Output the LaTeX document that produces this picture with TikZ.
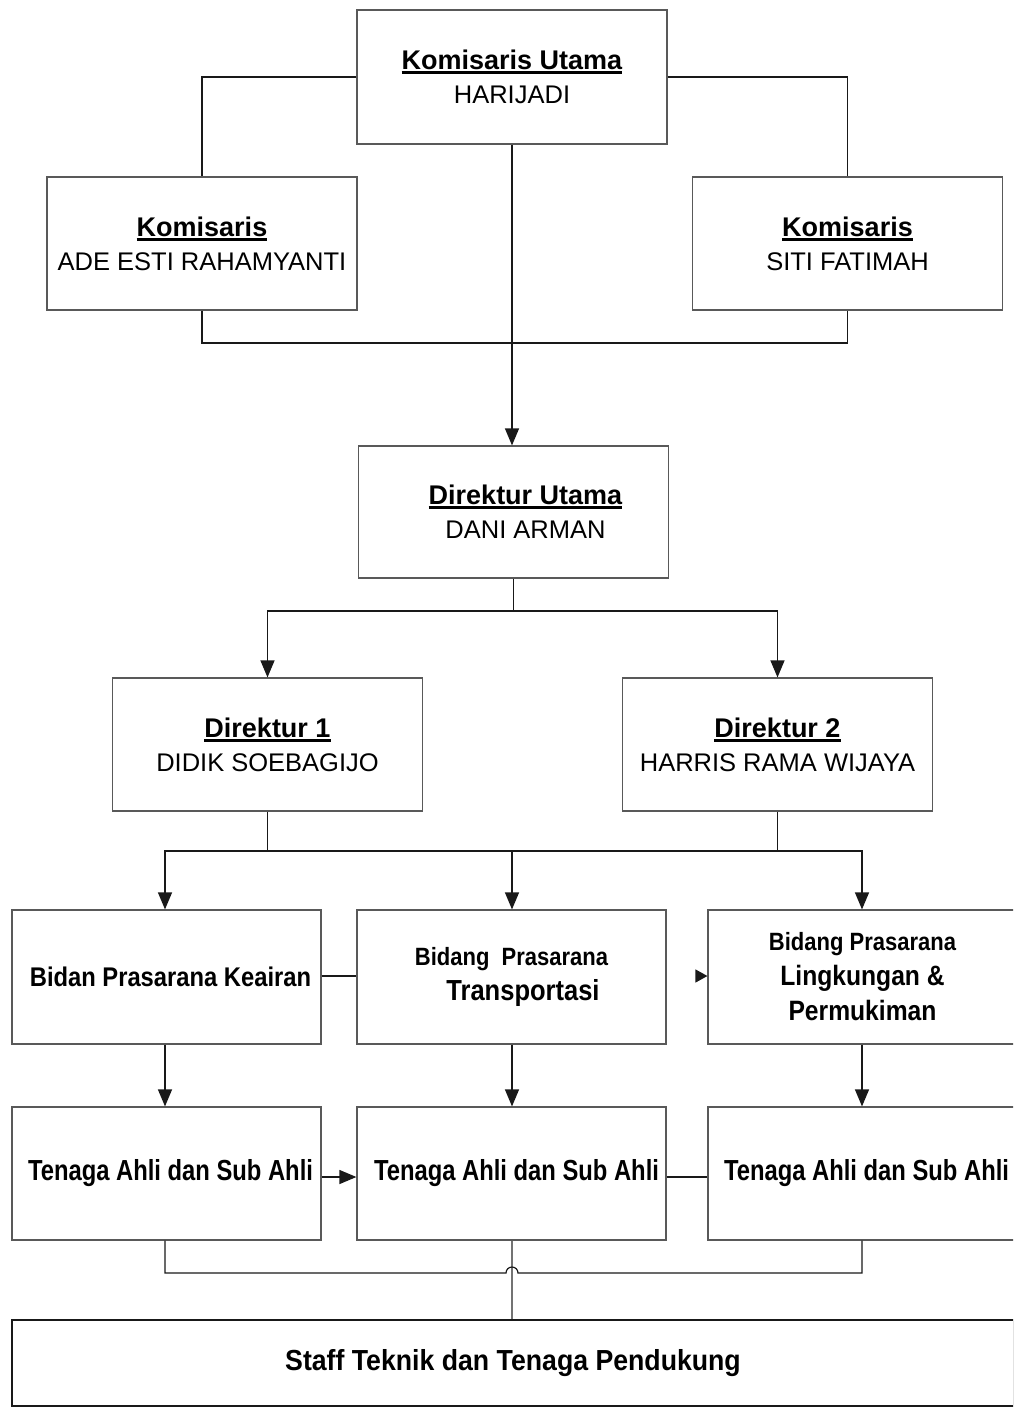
\documentclass[tikz,border=0pt]{standalone}
\usepackage{fontspec}
\setmainfont{Liberation Sans}
\newfontfamily\nb[FakeStretch=0.88]{Liberation Sans}
\newfontfamily\nbt[FakeStretch=0.82]{Liberation Sans}
\newfontfamily\nbs[FakeStretch=0.92]{Liberation Sans}
\usetikzlibrary{arrows.meta}
\newcommand\ulhd[1]{\setbox0=\hbox{\bfseries\fontsize{27}{34}\selectfont #1}\rlap{\rule[-4.5pt]{\wd0}{2.8pt}}\box0}
\tikzset{
  box/.style={draw=black!65, line width=1.2pt, minimum width=310pt, minimum height=134pt, inner sep=0pt, align=center, fill=white},
  reg/.style={font=\fontsize{25.5}{34}\selectfont},
  nbf/.style={font=\nb\bfseries\fontsize{27}{35}\selectfont},
  tnf/.style={font=\nbt\bfseries\fontsize{29}{35}\selectfont},
  conn/.style={draw=black!90, line width=1.2pt},
  arr/.style={conn, -{Triangle[length=17pt,width=14pt]}},
  grayconn/.style={draw=black!55, line width=1.2pt}
}
\begin{document}
\begin{tikzpicture}[x=1pt,y=-1pt]
\useasboundingbox (0,0) rectangle (1013,1416);
\clip (0,0) rectangle (1013,1416);
% top level
\node[box,reg] (ku) at (512,77) {\ulhd{Komisaris Utama}\\HARIJADI};
\node[box,reg,minimum height=133pt] (kl) at (202,243.5) {\ulhd{Komisaris}\\ADE ESTI RAHAMYANTI};
\node[box,reg,minimum height=133pt] (kr) at (847.5,243.5) {\ulhd{Komisaris}\\SITI FATIMAH};
\node[box,reg,minimum height=132pt] (du) at (513.5,512) {\hspace*{24pt}\ulhd{Direktur Utama}\\\hspace*{24pt}DANI ARMAN};
\node[box,reg,minimum height=133pt] (d1) at (267.5,744.5) {\ulhd{Direktur 1}\\DIDIK SOEBAGIJO};
\node[box,reg,minimum height=133pt] (d2) at (777.5,744.5) {\ulhd{Direktur 2}\\HARRIS RAMA WIJAYA};
% bidang row
\node[box,nbf,minimum width=309pt] (b1) at (166.5,977) {\hspace*{8pt}Bidan Prasarana Keairan};
\node[box,minimum width=309pt,font=\nb\bfseries\fontsize{29}{35}\selectfont] (b2) at (511.5,977) {{\fontsize{25}{35}\selectfont Bidang\ \ Prasarana}\\\hspace*{23pt}Transportasi};
\node[box,minimum width=309pt,font=\nb\bfseries\fontsize{28}{35}\selectfont] (b3) at (862.5,977) {{\fontsize{25}{35}\selectfont Bidang Prasarana}\\Lingkungan \&\\Permukiman};
% tenaga row
\node[box,tnf,minimum width=309pt,minimum height=133pt] (t1) at (166.5,1173.5) {\hspace*{8pt}Tenaga Ahli dan Sub Ahli};
\node[box,tnf,minimum width=309pt,minimum height=133pt] (t2) at (511.5,1173.5) {\hspace*{10pt}Tenaga Ahli dan Sub Ahli};
\node[box,tnf,minimum width=309pt,minimum height=133pt] (t3) at (862.5,1173.5) {\hspace*{8pt}Tenaga Ahli dan Sub Ahli};
% staff
\node[box,draw=black!90,minimum width=1002pt,minimum height=86pt,font=\nbs\bfseries\fontsize{29}{35}\selectfont] (st) at (513,1363) {Staff Teknik dan Tenaga Pendukung};
% coordinates
\coordinate (kj) at (512,343);
\coordinate (dj) at (513.5,611);
\coordinate (bj) at (512,851);
\coordinate (tj) at (512,1273);
% connectors top
\draw[conn] (ku.west) -| (kl.north);
\draw[conn] (ku.east) -| (kr.north);
\draw[conn] (kl.south) |- (kj) -| (kr.south);
\draw[arr] (ku.south) -- (ku.south |- du.north);
% direktur utama to direktur 1/2
\draw[conn] (du.south) -- (dj);
\draw[arr] (dj) -| (d1.north);
\draw[arr] (dj) -| (d2.north);
% direktur to bidang
\draw[conn] (d1.south) -- (d1.south |- bj);
\draw[conn] (d2.south) -- (d2.south |- bj);
\draw[arr] (bj) -| ([xshift=-1.5pt]b1.north);
\draw[arr] (bj) -| ([xshift=-0.5pt]b3.north);
\draw[arr] (bj) -- (bj |- b2.north);
% bidang row links
\draw[arr, -{Triangle[length=12pt,width=13pt]}, shorten <=30pt] (b2.east |- 0,976) -- (b3.west |- 0,976);
\draw[conn] (b1.east |- 0,976) -- (b2.west |- 0,976);
% bidang to tenaga
\draw[arr] ([xshift=-1.5pt]b1.south) -- ([xshift=-1.5pt]t1.north);
\draw[arr] ([xshift=0.5pt]b2.south) -- ([xshift=0.5pt]t2.north);
\draw[arr] ([xshift=-0.5pt]b3.south) -- ([xshift=-0.5pt]t3.north);
% tenaga row links
\draw[arr] (t1.east |- 0,1177) -- (t2.west |- 0,1177);
\draw[conn] (t2.east |- 0,1177) -- (t3.west |- 0,1177);
% bottom
\draw[grayconn] ([xshift=0.5pt]t2.south) -- ([xshift=0.5pt]t2.south |- st.north);
\draw[conn] ([xshift=-1.5pt]t1.south) |- ([xshift=-6pt]tj) arc[start angle=180, end angle=0, radius=6pt] -| ([xshift=-0.5pt]t3.south);
\end{tikzpicture}
\end{document}
